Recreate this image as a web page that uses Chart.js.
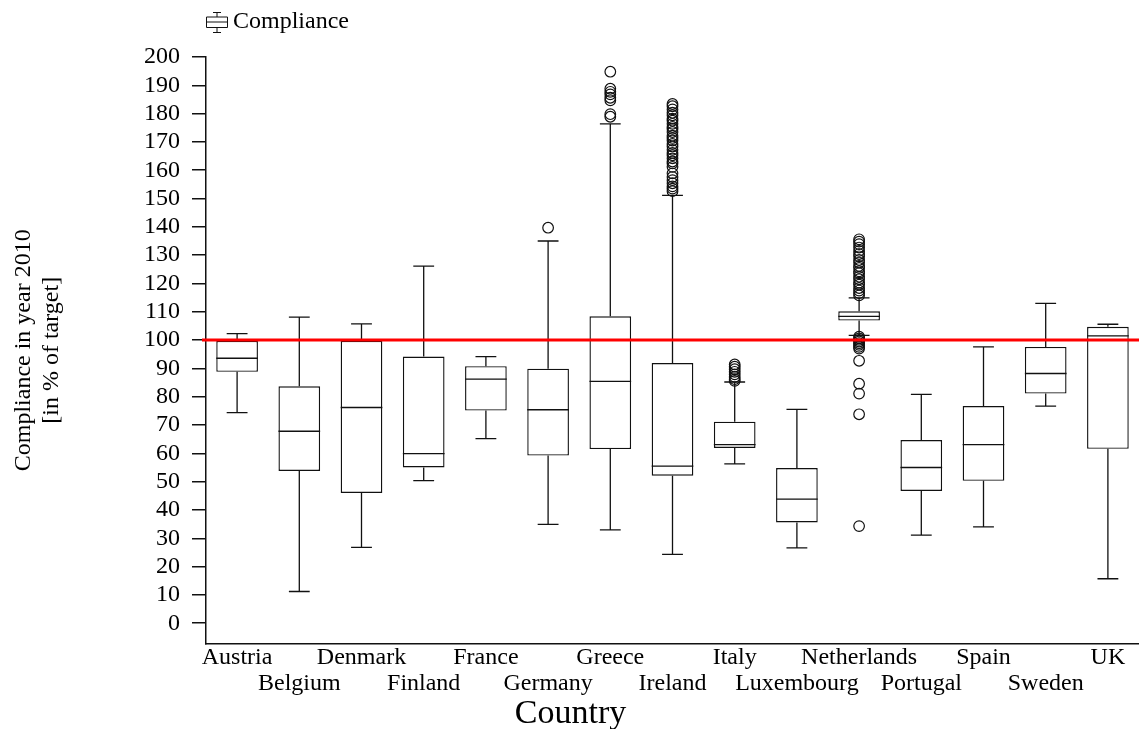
<!DOCTYPE html>
<html>
<head>
<meta charset="utf-8">
<title>Compliance in year 2010</title>
<script src="https://cdn.jsdelivr.net/npm/chart.js@4.4.1/dist/chart.umd.min.js"></script>
<style>
  html, body { margin: 0; padding: 0; background: #fff; }
  #wrap { width: 1139px; height: 729px; }
</style>
</head>
<body>
<div id="wrap"><canvas id="boxplot" width="1139" height="729"></canvas></div>
<script>
'use strict';

// box statistics per country (compliance, % of target)
const countries = ['Austria', 'Belgium', 'Denmark', 'Finland', 'France', 'Germany', 'Greece', 'Ireland',
  'Italy', 'Luxembourg', 'Netherlands', 'Portugal', 'Spain', 'Sweden', 'UK'];
const whiskerLow  = [74.4, 11.2, 26.8, 50.4, 65.2, 34.9, 33.0, 24.3, 56.3, 26.6, 101.7, 31.1, 34.0, 76.7, 15.7];
const q1          = [88.8, 53.8, 46.0, 55.0, 75.1, 59.2, 61.5, 52.1, 61.9, 35.6, 106.9, 46.7, 50.3, 81.1, 61.6];
const medians     = [93.6, 67.8, 76.2, 59.9, 86.2, 75.4, 85.4, 55.5, 63.1, 43.8, 108.4, 55.0, 63.1, 88.2, 101.5];
const q3          = [99.7, 83.7, 99.7, 94.2, 90.8, 89.9, 108.4, 91.9, 71.2, 54.8, 110.2, 64.7, 76.7, 97.6, 104.7];
const whiskerHigh = [102.3, 108.1, 105.7, 126.1, 94.2, 135.0, 176.4, 151.1, 85.2, 75.5, 114.9, 80.8, 97.6, 113.0, 105.6];

// outliers
const outGermany = [139.7];
const outGreece = [194.8, 188.8, 187.7, 186.8, 185.6, 184.7, 179.8, 178.9];
const outIreland = [183.4, 182.6, 181.5, 180.3, 179.4, 178.2, 177.5, 176.4, 175.3, 174.6, 173.5, 172.2,
  171.4, 170.5, 169.3, 168.4, 167.2, 166.1, 165.3, 164.2, 163.1, 162.4, 161.2, 158.9, 157.6, 156.5,
  155.4, 154.3, 153.5, 152.6];
const outItaly = [91.4, 90.6, 89.7, 88.8, 87.9, 87.0, 86.2, 85.6];
const outNetherlands = [135.6, 134.8, 133.9, 132.7, 131.5, 130.4, 129.6, 128.3, 127.4, 126.2, 125.5,
  124.3, 123.6, 122.4, 121.5, 120.3, 119.6, 118.4, 117.5, 116.6, 115.8,
  101.2, 100.6, 100.1, 99.5, 98.9, 98.3, 97.6, 97.0, 92.7, 84.6, 81.1, 73.8, 34.3];

const yTicks = [0, 10, 20, 30, 40, 50, 60, 70, 80, 90, 100, 110, 120, 130, 140, 150, 160, 170, 180, 190, 200];
const targetValue = 100;

const serif = 'Liberation Serif, Times New Roman, serif';

const outlierPoints = [
  ...outGermany.map(v => ({ x: 'Germany', y: v })),
  ...outGreece.map(v => ({ x: 'Greece', y: v })),
  ...outIreland.map(v => ({ x: 'Ireland', y: v })),
  ...outItaly.map(v => ({ x: 'Italy', y: v })),
  ...outNetherlands.map(v => ({ x: 'Netherlands', y: v }))
];

// whiskers, medians and the red 100% line
const boxExtras = {
  id: 'boxExtras',
  afterDatasetsDraw(chart) {
    const ctx = chart.ctx;
    const y = chart.scales.y;
    const area = chart.chartArea;
    const meta = chart.getDatasetMeta(0);
    ctx.save();
    ctx.strokeStyle = '#111';
    ctx.lineWidth = 1.3;
    meta.data.forEach((bar, i) => {
      const x = bar.x;
      const half = bar.width / 2;
      const cap = bar.width / 4;
      const yLo = y.getPixelForValue(whiskerLow[i]);
      const yQ1 = y.getPixelForValue(q1[i]);
      const yMed = y.getPixelForValue(medians[i]);
      const yQ3 = y.getPixelForValue(q3[i]);
      const yHi = y.getPixelForValue(whiskerHigh[i]);
      ctx.beginPath();
      ctx.moveTo(x, yQ3); ctx.lineTo(x, yHi);
      ctx.moveTo(x - cap, yHi); ctx.lineTo(x + cap, yHi);
      ctx.moveTo(x, yQ1); ctx.lineTo(x, yLo);
      ctx.moveTo(x - cap, yLo); ctx.lineTo(x + cap, yLo);
      ctx.moveTo(x - half, yMed); ctx.lineTo(x + half, yMed);
      ctx.stroke();
    });
    const yt = y.getPixelForValue(targetValue);
    ctx.strokeStyle = '#ff0000';
    ctx.lineWidth = 3;
    ctx.beginPath();
    ctx.moveTo(area.left - 4, yt);
    ctx.lineTo(area.right, yt);
    ctx.stroke();
    ctx.restore();
  }
};

// legend entry with a small box-and-whisker glyph
const boxLegend = {
  id: 'boxLegend',
  afterDraw(chart) {
    const ctx = chart.ctx;
    const left = chart.chartArea.left;
    const top = 12;
    ctx.save();
    ctx.strokeStyle = '#111';
    ctx.lineWidth = 1;
    ctx.beginPath();
    ctx.rect(left + 0.5, top + 5, 21, 10.5);
    ctx.moveTo(left + 0.5, top + 10); ctx.lineTo(left + 21.5, top + 10);
    ctx.moveTo(left + 11, top); ctx.lineTo(left + 11, top + 5);
    ctx.moveTo(left + 7, top + 0.5); ctx.lineTo(left + 15, top + 0.5);
    ctx.moveTo(left + 11, top + 15.5); ctx.lineTo(left + 11, top + 20.5);
    ctx.moveTo(left + 7, top + 20.5); ctx.lineTo(left + 15, top + 20.5);
    ctx.stroke();
    ctx.fillStyle = '#000';
    ctx.font = '24px ' + serif;
    ctx.textBaseline = 'middle';
    ctx.fillText(chart.data.datasets[0].label, left + 27, top + 10);
    ctx.restore();
  }
};

new Chart(document.getElementById('boxplot'), {
  type: 'bar',
  data: {
    labels: countries,
    datasets: [{
      label: 'Compliance',
      data: countries.map((c, i) => [q1[i], q3[i]]),
      backgroundColor: '#ffffff',
      borderColor: '#111',
      borderWidth: 1.4,
      borderSkipped: false,
      barPercentage: 0.67,
      categoryPercentage: 1.0,
      order: 2
    }, {
      type: 'line',
      label: 'Outliers',
      data: outlierPoints,
      showLine: false,
      pointStyle: 'circle',
      pointRadius: 5.3,
      pointBorderWidth: 1.2,
      pointBorderColor: '#111',
      pointBackgroundColor: 'rgba(0,0,0,0)',
      order: 1
    }]
  },
  options: {
    responsive: false,
    animation: false,
    layout: { autoPadding: false, padding: { top: 57, right: -2, bottom: 0, left: 0 } },
    plugins: {
      legend: { display: false },
      tooltip: { enabled: false },
      title: {
        display: true,
        position: 'bottom',
        text: 'Country',
        color: '#000',
        font: { family: serif, size: 34, weight: 'normal', lineHeight: 0.9 },
        padding: { top: 0, bottom: 0 }
      }
    },
    scales: {
      x: {
        offset: true,
        afterFit: scale => { scale.paddingLeft = 0; scale.paddingRight = 0; },
        grid: { display: false, drawTicks: false, tickLength: 0 },
        border: { display: true, color: '#111', width: 1.5 },
        ticks: {
          autoSkip: false,
          maxRotation: 0,
          minRotation: 0,
          padding: 1,
          color: '#000',
          font: { family: serif, size: 24, lineHeight: 1.1 },
          callback: function (value, index) {
            const name = this.getLabelForValue(value);
            return index % 2 === 0 ? [name] : ['', name];
          }
        }
      },
      y: {
        min: -7.2,
        max: 200,
        afterBuildTicks: scale => { scale.ticks = yTicks.map(v => ({ value: v })); },
        afterFit: scale => { scale.width = 206; },
        grid: { drawOnChartArea: false, drawTicks: true, tickLength: 14, color: '#111', lineWidth: 1.5 },
        border: { display: true, color: '#111', width: 1.5 },
        ticks: {
          autoSkip: false,
          padding: 12,
          color: '#000',
          font: { family: serif, size: 24 }
        },
        title: {
          display: true,
          text: ['Compliance in year 2010', '[in % of target]'],
          color: '#000',
          font: { family: serif, size: 24, lineHeight: 1.2 },
          padding: { top: 9, bottom: 0 }
        }
      }
    }
  },
  plugins: [boxExtras, boxLegend]
});
</script>
</body>
</html>
